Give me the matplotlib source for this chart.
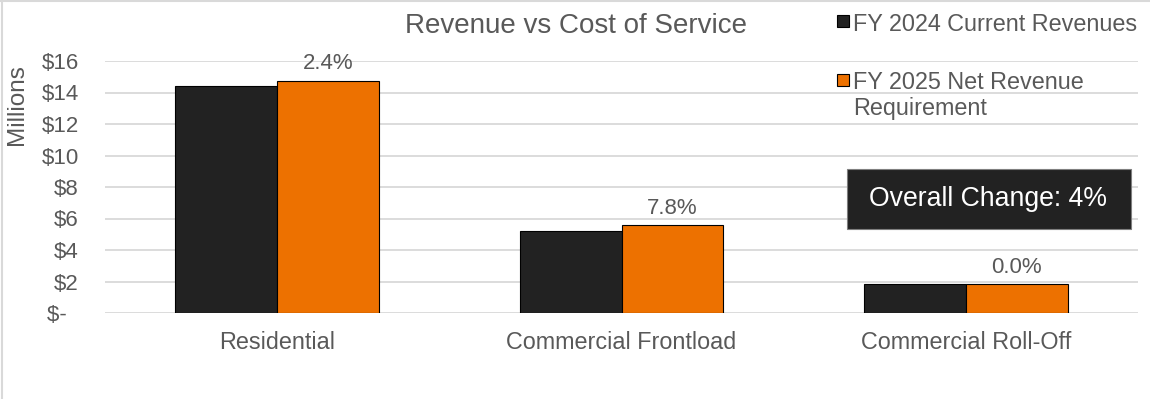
import matplotlib.pyplot as plt
from matplotlib.patches import Rectangle
from matplotlib.lines import Line2D
import numpy as np

plt.rcParams['font.family'] = ['Liberation Sans', 'DejaVu Sans']

# Revenue by customer class, in millions of dollars
categories = ["Residential", "Commercial Frontload", "Commercial Roll-Off"]
current_revenues = [14.41, 5.21, 1.84]
net_revenue_req = [14.76, 5.61, 1.84]
change_labels = ["2.4%", "7.8%", "0.0%"]
series_names = ["FY 2024 Current Revenues", "FY 2025 Net Revenue\nRequirement"]
overall_label = "Overall Change: 4%"
y_ticks = [0, 2, 4, 6, 8, 10, 12, 14, 16]
y_tick_labels = ["$-  ", "$2", "$4", "$6", "$8", "$10", "$12", "$14", "$16"]

DARK = "#222222"
ORANGE = "#ED7100"
TEXT = "#595959"
GRID = "#d9d9d9"

W, H = 1150, 399
fig = plt.figure(figsize=(W / 100, H / 100), dpi=100)


def fx(px):
    return px / W


def fy(py):
    return 1 - py / H


ax = fig.add_axes([fx(105), fy(313), fx(1138 - 105), (313 - 61) / H])

x = np.arange(len(categories))
width = 0.296
ax.bar(x - width / 2, current_revenues, width, color=DARK, edgecolor="black",
       linewidth=0.8, zorder=3)
bars = ax.bar(x + width / 2, net_revenue_req, width, color=ORANGE, edgecolor="black",
              linewidth=0.8, zorder=3)

# percent change above the orange bars
for rect, lab in zip(bars, change_labels):
    ax.annotate(lab, (rect.get_x() + rect.get_width() / 2, rect.get_height()),
                xytext=(0, 8), textcoords="offset points", ha="center", va="baseline",
                fontsize=16, color=TEXT)

ax.set_xlim(-0.5, 2.5)
ax.set_ylim(0, 16)
ax.set_yticks(y_ticks)
ax.set_yticklabels(y_tick_labels)
ax.set_xticks(x)
ax.set_xticklabels(categories)
ax.tick_params(axis="y", length=0, pad=19, labelsize=16, labelcolor=TEXT)
ax.tick_params(axis="x", length=0, pad=13, labelsize=16.8, labelcolor=TEXT)
ax.yaxis.grid(True, color=GRID, linewidth=1.3)
ax.set_axisbelow(True)
for s in ax.spines.values():
    s.set_visible(False)

fig.text(fx(17), fy(105), "Millions", rotation=90, ha="center", va="center",
         fontsize=17.5, color=TEXT)
fig.text(fx(576), fy(33), "Revenue vs Cost of Service", ha="center", va="baseline",
         fontsize=20, color=TEXT)

# legend drawn by hand so the wrapped entry keeps its marker on the first line
for (sq_top, base), col, name in zip([(15, 31), (74, 89)], [DARK, ORANGE], series_names):
    fig.add_artist(Rectangle((fx(837), fy(sq_top + 12)), 12 / W, 12 / H,
                             transform=fig.transFigure, facecolor=col,
                             edgecolor="black", linewidth=0.8))
    for i, line in enumerate(name.split("\n")):
        fig.text(fx(853), fy(base + 26 * i), line, ha="left", va="baseline",
                 fontsize=16.8, color=TEXT)

# overall change call-out
fig.add_artist(Rectangle((fx(847), fy(229)), (1131 - 847) / W, (229 - 169) / H,
                         transform=fig.transFigure, facecolor=DARK,
                         edgecolor="#7f7f7f", linewidth=0.8))
fig.text(fx(988), fy(199), overall_label, ha="center", va="center", fontsize=19.2,
         color="white")

# chart area border
fig.add_artist(Line2D([fx(2), fx(2)], [0, 1], transform=fig.transFigure,
                      color=GRID, linewidth=1.5))
fig.add_artist(Line2D([0, 1], [fy(1), fy(1)], transform=fig.transFigure,
                      color=GRID, linewidth=1.5))

fig.savefig("out.png", dpi=100)
